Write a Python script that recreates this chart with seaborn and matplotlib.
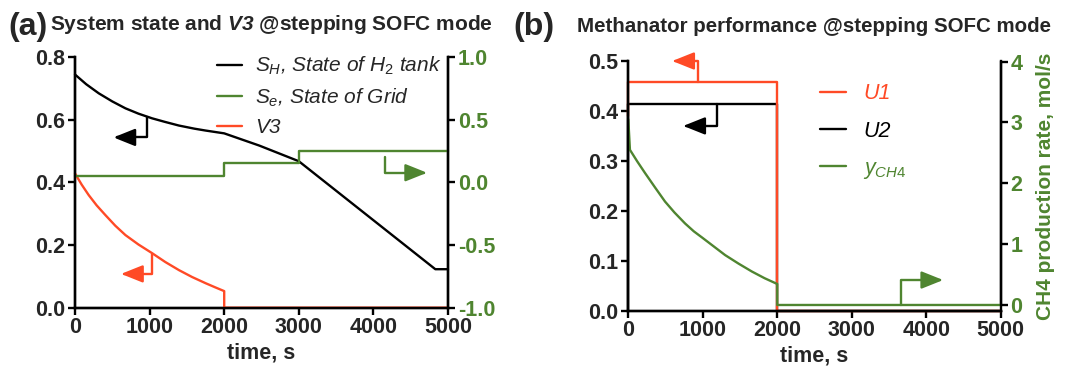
import matplotlib
matplotlib.use('Agg')
import matplotlib.pyplot as plt
import seaborn as sns

# (a) system state and V3
t_sh = [0, 150, 318, 500, 676, 850, 1034, 1200, 1392, 1600, 1750, 2000, 2470, 3000, 4830, 5000]
s_h = [0.745, 0.714, 0.685, 0.659, 0.637, 0.620, 0.605, 0.594, 0.582, 0.572, 0.566, 0.557,
       0.518, 0.468, 0.123, 0.123]
t_se = [0, 2000, 2000, 3000, 3000, 5000]
s_e = [0.054, 0.054, 0.153, 0.153, 0.254, 0.254]
t_v3 = [0, 90, 183, 290, 407, 540, 676, 850, 1035, 1210, 1394, 1570, 1753, 1880, 2000, 2000, 5000]
v3 = [0.429, 0.393, 0.360, 0.327, 0.296, 0.262, 0.232, 0.202, 0.174, 0.146, 0.120, 0.098,
      0.078, 0.065, 0.053, 0.0, 0.0]

# (b) methanator performance
t_u = [0, 0, 2000, 2000, 5000]
u1 = [0.389, 0.457, 0.457, 0.0, 0.0]
u2 = [0.0, 0.414, 0.414, 0.0, 0.0]
t_ch4 = [0, 22, 120, 224, 360, 493, 620, 762, 880, 1000, 1150, 1300, 1480, 1659, 1830, 2000,
         2000, 5000]
y_ch4 = [3.05, 2.55, 2.36, 2.17, 1.93, 1.70, 1.52, 1.34, 1.21, 1.10, 0.96, 0.82, 0.68, 0.55,
         0.44, 0.345, 0.0, 0.0]

x_ticks = [0, 1000, 2000, 3000, 4000, 5000]
a_left_ticks = [0.0, 0.2, 0.4, 0.6, 0.8]
a_right_ticks = [-1.0, -0.5, 0.0, 0.5, 1.0]
a_right_labels = ['-1.0', '-0.5', '0.0', '0.5', '1.0']
b_left_ticks = [0.0, 0.1, 0.2, 0.3, 0.4, 0.5]
b_right_ticks = [0, 1, 2, 3, 4]

RED = '#ff4a26'
GREEN = '#4f8530'
BLACK = 'black'

sns.set_style('ticks')
plt.rcParams['font.family'] = ['Liberation Sans', 'DejaVu Sans']
plt.rcParams['mathtext.fontset'] = 'custom'
plt.rcParams['mathtext.rm'] = 'Liberation Sans'
plt.rcParams['mathtext.it'] = 'Liberation Sans:italic'
plt.rcParams['mathtext.bf'] = 'Liberation Sans:bold'
plt.rcParams['mathtext.bfit'] = 'Liberation Sans:bold:italic'

W, H = 1078, 371
fig = plt.figure(figsize=(W / 100, H / 100), dpi=100)
ax_a = fig.add_axes([75 / W, 1 - 307.7 / H, 373 / W, 250.4 / H])
ax_a2 = ax_a.twinx()
ax_b = fig.add_axes([628.3 / W, 1 - 310.7 / H, 372.4 / W, 249.7 / H])
ax_b2 = ax_b.twinx()


def line(ax, x, y, color, z=2):
    sns.lineplot(x=x, y=y, ax=ax, color=color, lw=1.7, estimator=None,
                 sort=False, legend=False)
    ln = ax.lines[-1]
    ln.set_zorder(z)
    ln.set_clip_on(False)
    return ln


def bent_arrow(ax, x0, y0, x1, y1, color):
    # vertical stem from (x0, y0) then horizontal to the head at (x1, y1)
    ax.annotate('', xy=(x1, y1), xytext=(x0, y0),
                arrowprops=dict(arrowstyle='-|>,head_length=0.95,head_width=0.38',
                                connectionstyle='angle,angleA=90,angleB=0,rad=0',
                                color=color, lw=1.7, shrinkA=0, shrinkB=0,
                                mutation_scale=14))


def style_axes(ax, axr, right_color):
    for a in (ax, axr):
        for sp in a.spines.values():
            sp.set_linewidth(1.7)
            sp.set_color('black')
        a.tick_params(width=1.7, length=5, labelsize=15.5, color='black', pad=2)
    ax.spines['top'].set_visible(False)
    axr.spines['top'].set_visible(False)
    for lab in ax.get_xticklabels() + ax.get_yticklabels():
        lab.set_fontweight('bold')
    for lab in axr.get_yticklabels():
        lab.set_fontweight('bold')
        lab.set_color(right_color)
    ax.set_xlabel('time, s', fontsize=15.5, fontweight='bold', labelpad=3)


# ---- panel (a)
h_sh = line(ax_a, t_sh, s_h, BLACK)
h_v3 = line(ax_a, t_v3, v3, RED, z=3)
h_se = line(ax_a2, t_se, s_e, GREEN)
ax_a.set_xlim(0, 5000)
ax_a.set_ylim(0, 0.8)
ax_a2.set_ylim(-1, 1)
ax_a.set_xticks(x_ticks)
ax_a.set_yticks(a_left_ticks, [f'{v:.1f}' for v in a_left_ticks])
ax_a2.set_yticks(a_right_ticks, a_right_labels)
style_axes(ax_a, ax_a2, GREEN)

bent_arrow(ax_a, 970, 0.61, 515, 0.544, BLACK)
bent_arrow(ax_a, 1030, 0.172, 617, 0.108, RED)
bent_arrow(ax_a2, 4161, 0.20, 4720, 0.078, GREEN)

leg_a = ax_a.legend([h_sh, h_se, h_v3],
                    [r'$S_H$, State of H$_2$ tank', r'$S_e$, State of Grid', 'V3'],
                    loc='upper left', bbox_to_anchor=(0.38, 1.01), frameon=False,
                    borderpad=0, borderaxespad=0, handlelength=1.2, handletextpad=0.65,
                    labelspacing=0.45, prop=dict(size=15, style='italic', weight='normal'))

# ---- panel (b)
h_ch4 = line(ax_b2, t_ch4, y_ch4, GREEN)
ax_b2.lines[-1].set_clip_on(True)
h_u2 = line(ax_b, t_u, u2, BLACK)
h_u1 = line(ax_b, t_u, u1, RED)
ax_b.set_xlim(0, 5000)
ax_b.set_ylim(0, 0.5)
ax_b2.set_ylim(-0.094, 4.01)
ax_b.set_xticks(x_ticks)
ax_b.set_yticks(b_left_ticks, [f'{v:.1f}' for v in b_left_ticks])
ax_b2.set_yticks(b_right_ticks, [str(v) for v in b_right_ticks])
ax_b2.spines['right'].set_bounds(0, 4)
style_axes(ax_b, ax_b2, GREEN)
ax_b2.set_ylabel('CH4 production rate, mol/s', fontsize=15, fontweight='bold',
                 color=GREEN, labelpad=10)

bent_arrow(ax_b, 935, 0.457, 590, 0.500, RED)
bent_arrow(ax_b, 1195, 0.414, 738, 0.370, BLACK)
bent_arrow(ax_b2, 3660, 0.0, 4228, 0.41, GREEN)

leg_b = ax_b.legend([h_u1, h_u2, h_ch4], ['U1', 'U2', r'$y_{CH4}$'],
                    loc='upper left', bbox_to_anchor=(0.515, 0.91), frameon=False,
                    borderpad=0, borderaxespad=0, handlelength=1.2, handletextpad=0.8,
                    labelspacing=0.75, prop=dict(size=15.5, style='italic', weight='normal'))
for txt, c in zip(leg_b.get_texts(), [RED, BLACK, GREEN]):
    txt.set_color(c)

# ---- titles and panel letters
fig.text(8 / W, 1 - 27 / H, '(a)', fontsize=23, fontweight='bold', va='center')
fig.text(50 / W, 1 - 30 / H, r'System state and $\mathbfit{V3}$ @stepping SOFC mode',
         fontsize=15, fontweight='bold', va='baseline')
fig.text(513 / W, 1 - 27 / H, '(b)', fontsize=23, fontweight='bold', va='center')
fig.text(577 / W, 1 - 32 / H, 'Methanator performance @stepping SOFC mode',
         fontsize=14.8, fontweight='bold', va='baseline')

fig.savefig('out.png', dpi=100)
